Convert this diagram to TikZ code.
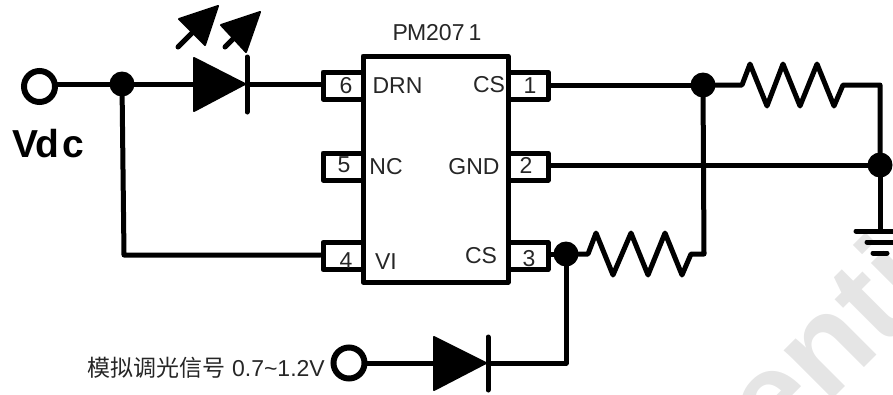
\documentclass[tikz,border=0pt]{standalone}
\usepackage{fontspec}
\setmainfont{Liberation Sans}
\newfontfamily\cjk{Noto Sans CJK SC}
\begin{document}
\begin{tikzpicture}[x=1pt,y=-1pt,
  wire/.style={line width=5pt,line join=round,line cap=round},
  dot/.style={circle,fill=black,inner sep=0pt,minimum size=25pt},
  term/.style={circle,draw,line width=6pt,fill=white,inner sep=0pt,minimum size=31pt},
  chipbox/.style={draw,line width=5pt,line join=round,minimum width=145pt,minimum height=226pt,inner sep=0pt},
  pinbox/.style={draw,line width=5pt,line join=round,minimum width=40pt,minimum height=27pt,inner sep=0pt},
  txt/.style={font=\fontsize{23}{25}\selectfont,inner sep=0pt,text=black!85},
  anode/.style={fill=black,draw=black,line width=2pt,line join=round}]
\useasboundingbox (0,0) rectangle (893,394);
\clip (0,0) rectangle (893,394);
% watermark
\node[rotate=45,anchor=base west,font=\bfseries\fontsize{130}{130}\selectfont,text=black!10,inner sep=0pt] (wm) at (775,457) {enti};
% chip and pins
\node[chipbox] (chip) at (435.5,169) {};
\node[pinbox] (p6) at (343,85.5) {};
\node[pinbox] (p5) at (343,166.5) {};
\node[pinbox] (p4) at (343,256) {};
\node[pinbox] (p1) at (528,85.5) {};
\node[pinbox] (p2) at (528,166.5) {};
\node[pinbox] (p3) at (528,256) {};
\node[txt] (n6) at (346,86) {6};
\node[txt] (n5) at (344,165) {5};
\node[txt] (n4) at (346,261) {4};
\node[txt] (n1) at (530,86) {1};
\node[txt] (n2) at (526,165) {2};
\node[txt] (n3) at (529,259) {3};
\node[txt] (l6) at (397.5,86) {DRN};
\node[txt] (l5) at (386,167) {NC};
\node[txt] (l4) at (386,262) {VI};
\node[txt] (l1) at (489,85) {CS};
\node[txt] (l2) at (474,167) {GND};
\node[txt] (l3) at (481,256) {CS};
\node[txt] (title) at (437,33) {P\kern-1pt M207\kern4pt 1};
\node[font=\bfseries\fontsize{39}{40}\selectfont,inner sep=0pt] (vdc) at (48,144) {V\kern-3pt d\kern3pt c};
\node[txt,anchor=east] (sig) at (325,368) {{\cjk 模拟调光信号} 0.7\textasciitilde 1.2V};
% junctions, terminals
\node[term] (tv) at (39.5,86.5) {};
\node[term] (ts) at (349,363) {};
\node[dot] (j1) at (122,84) {};
\node[dot] (j2) at (703,85) {};
\node[dot] (j3) at (880,165) {};
\node[dot] (j4) at (566,254) {};
\coordinate (c1) at (124,255);
\coordinate (c2) at (704,254);
\coordinate (c3) at (880,85);
\coordinate (c4) at (566,363);
\coordinate (g) at (880,231);
\coordinate (g1a) at (856,231); \coordinate (g1b) at (905,231);
\coordinate (g2a) at (867,242); \coordinate (g2b) at (900,242);
\coordinate (g3a) at (873,253); \coordinate (g3b) at (887,253);
\coordinate (led) at (247,84);
\coordinate (dio) at (488,363);
% LED
\draw[anode] (194,58) -- (245,84) -- (194,111) -- cycle;
\draw[wire] (247,57) -- (247,112);
\draw[anode] (218,6) -- (179,19) -- (205,45) -- cycle;
\draw[wire] (178,47) -- (200,25);
\draw[anode] (260,12) -- (221,25) -- (246,52) -- cycle;
\draw[wire] (225,47) -- (240,32);
% diode
\draw[anode] (434,337) -- (486,363) -- (434,390) -- cycle;
\draw[wire] (488,337) -- (488,390);
% wires
\draw[wire] (tv.east |- j1) -- (j1.center);
\draw[wire] (j1.center) -- (194,84);
\draw[wire] (led) -- (p6.west |- led);
\draw[wire] (j1.center) -- (c1) -- (p4.west |- c1);
\draw[wire] (p1.east |- j2) -- (j2.center);
\draw[wire] (j2.center) -- (742,85) -- (750,64) -- (767,106) -- (783,64) -- (800,106) -- (817,64) -- (834,106) -- (843,85) -- (c3) -- (j3.center);
\draw[wire] (p2.east |- j3) -- (j3.center);
\draw[wire] (j2.center) -- (c2) -- (691,254) -- (682,275) -- (665,233) -- (648,275) -- (631,233) -- (613,275) -- (596,233) -- (588,254) -- (j4.center);
\draw[wire] (p3.east |- j4) -- (j4.center);
\draw[wire] (j4.center) -- (c4) -- (dio);
\draw[wire] (ts.east |- dio) -- (434,363);
\draw[wire] (j3.center) -- (g);
\draw[wire] (g1a) -- (g1b);
\draw[wire] (g2a) -- (g2b);
\draw[wire] (g3a) -- (g3b);
\end{tikzpicture}
\end{document}
